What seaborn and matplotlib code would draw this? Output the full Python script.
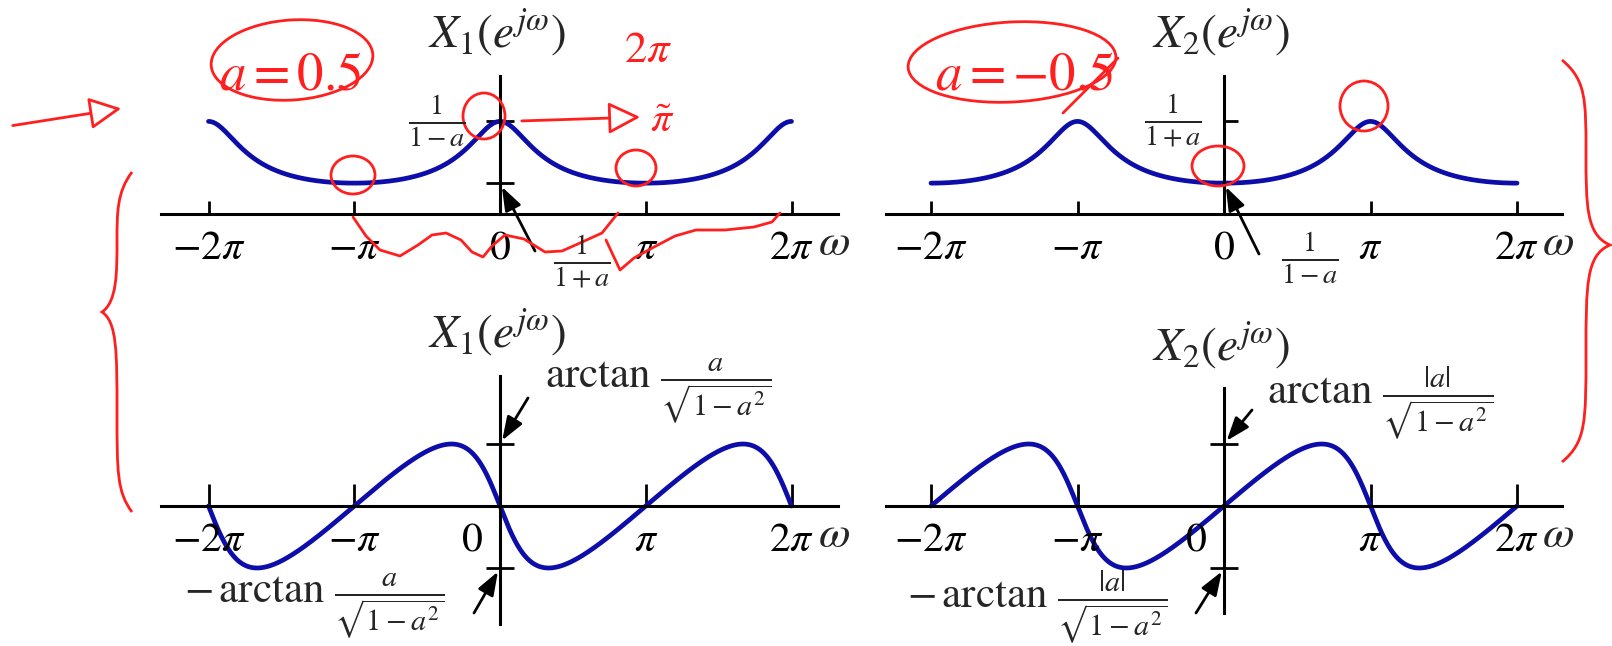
import numpy as np
import pandas as pd
import matplotlib
matplotlib.use("Agg")
import matplotlib.pyplot as plt
from matplotlib.patches import Ellipse, PathPatch
from matplotlib.path import Path
import seaborn as sns

sns.set_theme(style="white")
plt.rcParams["mathtext.fontset"] = "stix"
plt.rcParams["font.family"] = ["STIXGeneral", "DejaVu Serif"]

# the two first-order sequences x[n] = a^n u[n]
a_values = [0.5, -0.5]
a_labels = [r"$a=0.5$", r"$a=-0.5$"]
spectrum_titles = [r"$X_1(e^{j\omega})$", r"$X_2(e^{j\omega})$"]
omega_ticks = [-2 * np.pi, -np.pi, 0.0, np.pi, 2 * np.pi]
omega_tick_labels = [r"$-2\pi$", r"$-\pi$", r"$0$", r"$\pi$", r"$2\pi$"]
mag_peak_labels = [r"$\frac{1}{1-a}$", r"$\frac{1}{1+a}$"]
mag_floor_labels = [r"$\frac{1}{1+a}$", r"$\frac{1}{1-a}$"]
phase_top_labels = [r"$\arctan\,\frac{a}{\sqrt{1-a^2}}$",
                    r"$\arctan\,\frac{|a|}{\sqrt{1-a^2}}$"]
phase_bottom_labels = [r"$-\,\arctan\,\frac{a}{\sqrt{1-a^2}}$",
                       r"$-\,\arctan\,\frac{|a|}{\sqrt{1-a^2}}$"]

BLUE = "#0d0daa"
RED = "#ff1f1f"
W, H = 1612, 646

omega = np.linspace(-2 * np.pi, 2 * np.pi, 1601)


def dtft(a, w):
    return 1.0 / (1.0 - a * np.exp(-1j * w))


frames = []
for k, a in enumerate(a_values):
    X = dtft(a, omega)
    frames.append(pd.DataFrame({"omega": omega, "value": np.abs(X),
                                "kind": "mag", "signal": k}))
    frames.append(pd.DataFrame({"omega": omega, "value": np.angle(X),
                                "kind": "phase", "signal": k}))
spectra = pd.concat(frames, ignore_index=True)

fig = plt.figure(figsize=(W / 100, H / 100), dpi=100)
fig.patch.set_facecolor("white")


def make_axes(x0, y0, ppr, ppu, left, right, top, bottom):
    ax = fig.add_axes([left / W, 1 - bottom / H, (right - left) / W, (bottom - top) / H])
    ax.set_xlim((left - x0) / ppr, (right - x0) / ppr)
    ax.set_ylim((y0 - bottom) / ppu, (y0 - top) / ppu)
    ax.set_facecolor("none")
    for side in ("top", "right"):
        ax.spines[side].set_visible(False)
    for side in ("left", "bottom"):
        ax.spines[side].set_position(("data", 0))
        ax.spines[side].set_color("black")
        ax.spines[side].set_linewidth(2.2)
    return ax


def fpx(x, y):
    return (x / W, 1 - y / H)


layout = {
    ("mag", 0): dict(x0=500, y0=214, ppr=145.75 / np.pi, ppu=46.3, box=(161, 838, 76, 214)),
    ("mag", 1): dict(x0=1224, y0=214, ppr=146.5 / np.pi, ppu=46.3, box=(886, 1562, 76, 214)),
    ("phase", 0): dict(x0=500, y0=506, ppr=145.75 / np.pi, ppu=118.4, box=(161, 838, 376, 624)),
    ("phase", 1): dict(x0=1224, y0=506, ppr=146.5 / np.pi, ppu=118.4, box=(886, 1562, 388, 613)),
}

arrow_kw = dict(arrowstyle="-|>,head_length=0.55,head_width=0.2", color="black",
                lw=2.0, shrinkA=0, shrinkB=3, mutation_scale=26)

for (kind, k), cfg in layout.items():
    ax = make_axes(cfg["x0"], cfg["y0"], cfg["ppr"], cfg["ppu"], *cfg["box"])
    data = spectra[(spectra["kind"] == kind) & (spectra["signal"] == k)]
    sns.lineplot(data=data, x="omega", y="value", ax=ax, color=BLUE, lw=3.4,
                 estimator=None, sort=False, legend=False, clip_on=False)
    ax.set_xlabel("")
    ax.set_ylabel("")
    a = a_values[k]
    ppr, ppu = cfg["ppr"], cfg["ppu"]
    ax.set_xticks(omega_ticks)
    ax.set_xticklabels([])
    ax.tick_params(axis="x", direction="in", length=9.5 if kind == "mag" else 16,
                   width=2.0, color="black", bottom=True, labelbottom=False)
    for t, lab in zip(omega_ticks, omega_tick_labels):
        xt = t
        if kind == "phase" and t == 0:
            xt = -28 / ppr
        ax.text(xt, -35 / ppu, lab, ha="center", va="center", fontsize=30,
                color="black", clip_on=False)
    x_right = cfg["box"][1]
    fig.text(*fpx(x_right - 4, cfg["y0"] + 30), r"$\omega$", fontsize=33,
             ha="center", va="center")
    fig.text(*fpx(cfg["x0"] - 3, 33 if kind == "mag" else (333 if k == 0 else 346)),
             spectrum_titles[k], fontsize=34, ha="center", va="center")

    if kind == "mag":
        peak, floor = 1 / (1 - abs(a)), 1 / (1 + abs(a))
        ax.set_yticks([peak, floor])
        ax.set_yticklabels([])
        ax.tick_params(axis="y", direction="inout" if k == 0 else "in",
                       length=20 if k == 0 else 10, width=2.0, color="black",
                       left=True, labelleft=False)
        lx = cfg["x0"] - (63 if k == 0 else 51)
        fig.text(*fpx(lx, 121), mag_peak_labels[k], fontsize=29,
                 ha="center", va="center")
        tx, ty = (582, 262) if k == 0 else (1310, 258)
        fig.text(*fpx(tx, ty), mag_floor_labels[k], fontsize=29,
                 ha="center", va="center")
        sx, sy = (535, 251) if k == 0 else (1259, 254)
        ax.annotate("", xy=(0, floor), xycoords="data",
                    xytext=(sx, H - sy), textcoords="figure pixels",
                    arrowprops=arrow_kw)
    else:
        lim = np.arcsin(abs(a))
        ax.set_yticks([lim, -lim])
        ax.set_yticklabels([])
        ax.tick_params(axis="y", direction="inout", length=20, width=2.0,
                       color="black", left=True, labelleft=False)
        if k == 0:
            top_txt, top_arrow = (545, 390), (528, 398)
            bot_txt, bot_arrow = (184, 605), (474, 613)
        else:
            top_txt, top_arrow = (1267, 403), (1252, 410)
            bot_txt, bot_arrow = (907, 607), (1196, 613)
        fig.text(*fpx(*top_txt), phase_top_labels[k], fontsize=31,
                 ha="left", va="center")
        fig.text(*fpx(*bot_txt), phase_bottom_labels[k], fontsize=31,
                 ha="left", va="center")
        ax.annotate("", xy=(0, lim), xycoords="data",
                    xytext=(top_arrow[0], H - top_arrow[1]), textcoords="figure pixels",
                    arrowprops=arrow_kw)
        ax.annotate("", xy=(0, -lim), xycoords="data",
                    xytext=(bot_arrow[0], H - bot_arrow[1]), textcoords="figure pixels",
                    arrowprops=arrow_kw)

# handwritten red notes on top of the printed figure
overlay = fig.add_axes([0, 0, 1, 1])
overlay.set_xlim(0, W)
overlay.set_ylim(H, 0)
overlay.axis("off")
overlay.patch.set_alpha(0)

pen = dict(color=RED, lw=2.0, fill=False)
overlay.text(290, 77, a_labels[0], color=RED, fontsize=38, ha="center", va="center")
overlay.text(1024, 77, a_labels[1], color=RED, fontsize=38, ha="center", va="center")
overlay.add_patch(Ellipse((292, 60), 162, 80, angle=-4, **pen))
overlay.add_patch(Ellipse((1012, 62), 208, 80, angle=-3, **pen))
overlay.plot([1063, 1118], [113, 58], color=RED, lw=2.0)
for (cx, cy, w, h) in [(484, 116, 42, 46), (353, 175, 44, 38), (636, 168, 40, 36),
                       (1218, 166, 52, 40), (1364, 106, 48, 50)]:
    overlay.add_patch(Ellipse((cx, cy), w, h, **pen))
overlay.annotate("", xy=(643, 117), xytext=(519, 121),
                 arrowprops=dict(arrowstyle="-|>,head_length=0.9,head_width=0.45",
                                 color=RED, lw=2.0, fc="white", mutation_scale=22))
overlay.annotate("", xy=(124, 108), xytext=(10, 126),
                 arrowprops=dict(arrowstyle="-|>,head_length=0.9,head_width=0.45",
                                 color=RED, lw=2.0, fc="white", mutation_scale=22))
overlay.text(648, 52, r"$2\pi$", color=RED, fontsize=32, ha="center", va="center")
overlay.text(662, 122, r"$\tilde{\pi}$", color=RED, fontsize=30, ha="center", va="center")

scribble_x = [353, 366, 380, 400, 418, 432, 446, 461, 472, 483, 492, 505, 524, 545, 562, 580, 602, 618]
scribble_y = [217, 236, 250, 256, 245, 235, 233, 240, 252, 257, 246, 235, 239, 252, 251, 243, 233, 213]
overlay.plot(scribble_x, scribble_y, color=RED, lw=2.0)
scribble2_x = [606, 620, 634, 654, 675, 696, 725, 754, 772, 780]
scribble2_y = [240, 270, 258, 247, 236, 230, 230, 227, 222, 213]
overlay.plot(scribble2_x, scribble2_y, color=RED, lw=2.0)


def brace(x_tip, x_back, y_top, y_bot, y_tip):
    xm = (x_tip + x_back) / 2
    verts = [(x_back, y_top), (xm, y_top + 20), (xm, y_top + 40), (xm, (y_top + y_tip) / 2),
             (xm, y_tip - 40), (xm, y_tip - 10), (x_tip, y_tip),
             (xm, y_tip + 10), (xm, y_tip + 40), (xm, (y_tip + y_bot) / 2),
             (xm, y_bot - 40), (xm, y_bot - 20), (x_back, y_bot)]
    codes = [Path.MOVETO] + [Path.CURVE4] * 12
    return PathPatch(Path(verts, codes), edgecolor=RED, lw=2.0, facecolor="none")


overlay.add_patch(brace(102, 132, 172, 512, 312))
overlay.add_patch(brace(1610, 1562, 60, 462, 245))

fig.savefig("out.png", dpi=100, facecolor="white")
